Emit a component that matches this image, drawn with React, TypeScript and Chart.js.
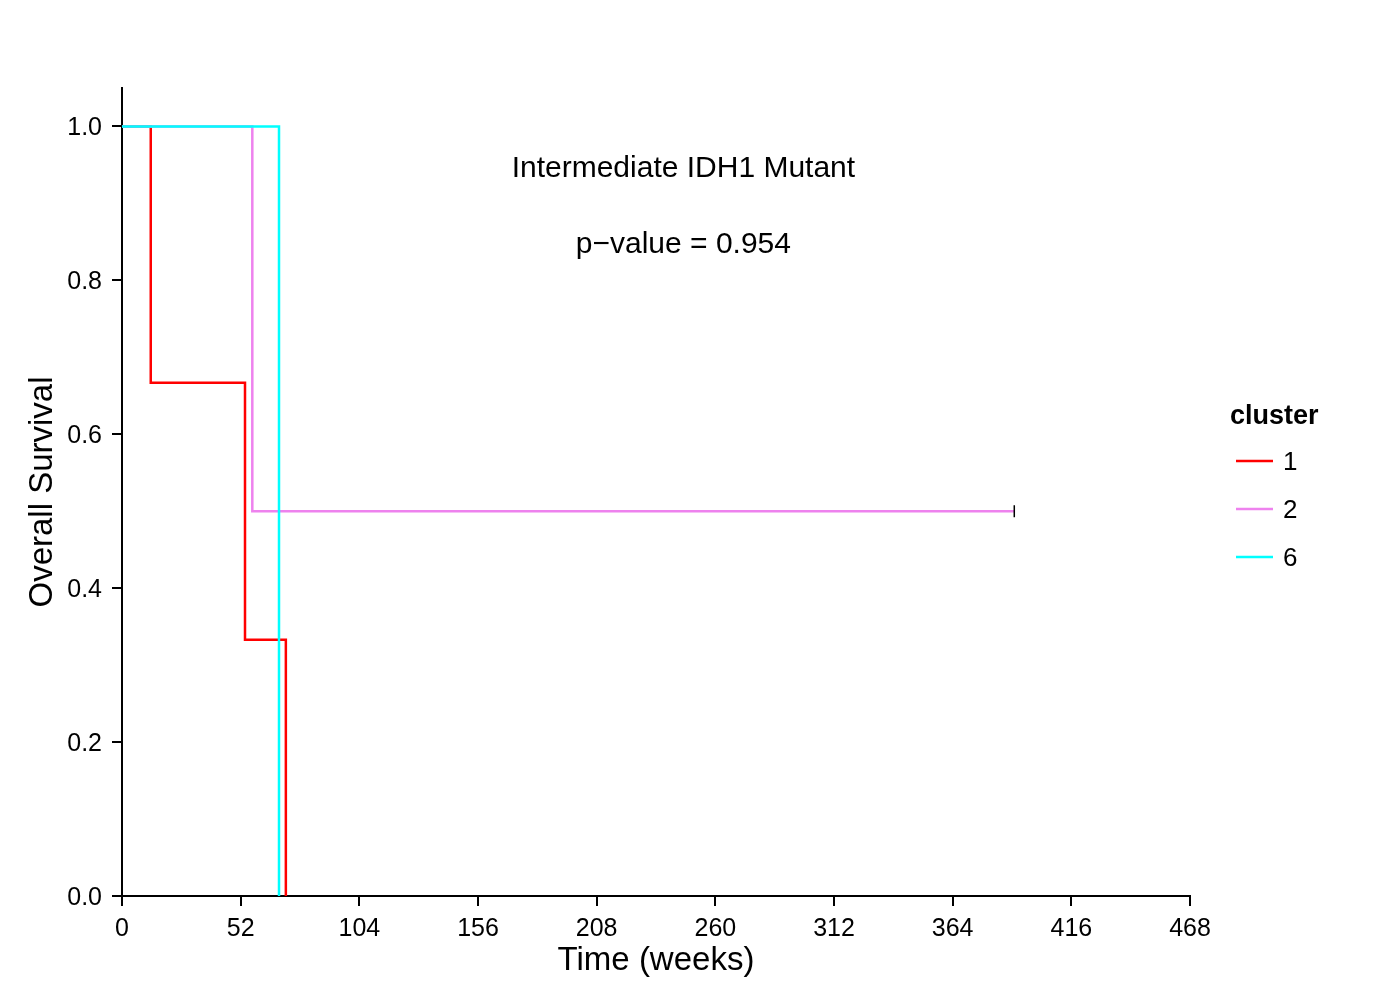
import React, { useEffect, useRef } from "react";
import { Chart, registerables } from "chart.js";

Chart.register(...registerables);

const clusterLabels = ["1", "2", "6"];
const clusterColors = ["#FF0000", "#EE82EE", "#00FFFF"];

// Kaplan-Meier step points (weeks, survival)
const cluster1Times = [0, 12.6, 53.9, 71.8];
const cluster1Surv = [1, 0.667, 0.333, 0];
const cluster2Times = [0, 57.1, 391];
const cluster2Surv = [1, 0.5, 0.5];
const cluster2Censored = [false, false, true];
const cluster6Times = [0, 68.8];
const cluster6Surv = [1, 0];

const xTicks = [0, 52, 104, 156, 208, 260, 312, 364, 416, 468];
const yTicks = [0, 0.2, 0.4, 0.6, 0.8, 1.0];

const titleText = "Intermediate IDH1 Mutant";
const pValueText = "p\u2212value = 0.954";
const annotationX = 246;
const titleY = 0.945;
const pValueY = 0.846;

const FONT = "'Liberation Sans', Arial, Helvetica, sans-serif";

function toPoints(xs: number[], ys: number[]) {
  return xs.map((x, i) => ({ x, y: ys[i] }));
}

export default function App() {
  const ref = useRef<HTMLCanvasElement | null>(null);

  useEffect(() => {
    if (!ref.current) return;

    const overlay = {
      id: "overlay",
      afterDraw(chart: any) {
        const ctx = chart.ctx;
        const xs = chart.scales.x;
        const ys = chart.scales.y;
        const area = chart.chartArea;
        ctx.save();
        ctx.fillStyle = "#000";
        // annotation text
        ctx.font = `30px ${FONT}`;
        ctx.textAlign = "center";
        ctx.textBaseline = "middle";
        ctx.fillText(titleText, xs.getPixelForValue(annotationX), ys.getPixelForValue(titleY));
        ctx.fillText(pValueText, xs.getPixelForValue(annotationX), ys.getPixelForValue(pValueY));

        // axis titles
        ctx.font = `33px ${FONT}`;
        ctx.fillText("Time (weeks)", (area.left + area.right) / 2, 961);
        ctx.save();
        ctx.translate(43, (area.top + area.bottom) / 2);
        ctx.rotate(-Math.PI / 2);
        ctx.fillText("Overall Survival", 0, 0);
        ctx.restore();

        // legend
        ctx.textAlign = "left";
        ctx.font = `bold 27px ${FONT}`;
        ctx.fillText("cluster", 1230, 417);
        ctx.font = `26px ${FONT}`;
        clusterLabels.forEach((lab, i) => {
          const y = 461 + i * 48;
          ctx.strokeStyle = clusterColors[i];
          ctx.lineWidth = 2.5;
          ctx.beginPath();
          ctx.moveTo(1236, y);
          ctx.lineTo(1273, y);
          ctx.stroke();
          ctx.fillStyle = "#000";
          ctx.fillText(lab, 1283, y + 2);
        });
        ctx.restore();
      },
    };

    const chart = new Chart(ref.current, {
      type: "line",
      data: {
        datasets: [
          {
            label: clusterLabels[2],
            data: toPoints(cluster6Times, cluster6Surv),
            borderColor: clusterColors[2],
            borderWidth: 2.5,
            stepped: "before",
            pointRadius: 0,
            fill: false,
          },
          {
            label: clusterLabels[1],
            data: toPoints(cluster2Times, cluster2Surv),
            borderColor: clusterColors[1],
            borderWidth: 2.5,
            stepped: "before",
            pointRadius: cluster2Censored.map((c) => (c ? 6 : 0)),
            pointStyle: "line",
            rotation: 90,
            pointBorderColor: "#000",
            pointBorderWidth: 1.5,
            fill: false,
          },
          {
            label: clusterLabels[0],
            data: toPoints(cluster1Times, cluster1Surv),
            borderColor: clusterColors[0],
            borderWidth: 2.5,
            stepped: "before",
            pointRadius: 0,
            fill: false,
          },
        ],
      },
      options: {
        animation: false,
        responsive: false,
        layout: { padding: { left: 0, top: 88, right: 210, bottom: 0 } },
        plugins: {
          legend: { display: false },
          tooltip: { enabled: false },
          title: { display: false },
        },
        scales: {
          x: {
            type: "linear",
            min: 0,
            max: 468,
            afterBuildTicks(scale: any) {
              scale.ticks = xTicks.map((v) => ({ value: v }));
            },
            afterFit(scale: any) {
              scale.height = 104;
            },
            ticks: {
              color: "#000",
              font: { size: 25, family: FONT },
              padding: 8,
              maxRotation: 0,
              autoSkip: false,
              callback: (v: any) => String(v),
            },
            grid: {
              drawOnChartArea: false,
              drawTicks: true,
              tickLength: 10,
              color: "#000",
              lineWidth: 2,
            },
            border: { display: true, color: "#000", width: 2 },
          },
          y: {
            type: "linear",
            min: 0,
            max: 1.05,
            afterBuildTicks(scale: any) {
              scale.ticks = yTicks.map((v) => ({ value: v }));
            },
            afterFit(scale: any) {
              scale.width = 122;
            },
            ticks: {
              color: "#000",
              font: { size: 25, family: FONT },
              padding: 10,
              labelOffset: 2,
              autoSkip: false,
              callback: (v: any) => Number(v).toFixed(1),
            },
            grid: {
              drawOnChartArea: false,
              drawTicks: true,
              tickLength: 10,
              color: "#000",
              lineWidth: 2,
            },
            border: { display: true, color: "#000", width: 2 },
          },
        },
      },
      plugins: [overlay],
    } as any);

    return () => chart.destroy();
  }, []);

  return (
    <div style={{ position: "absolute", left: 0, top: 0, width: 1400, height: 1000, background: "#fff" }}>
      <canvas ref={ref} width={1400} height={1000} style={{ width: 1400, height: 1000 }} />
    </div>
  );
}
